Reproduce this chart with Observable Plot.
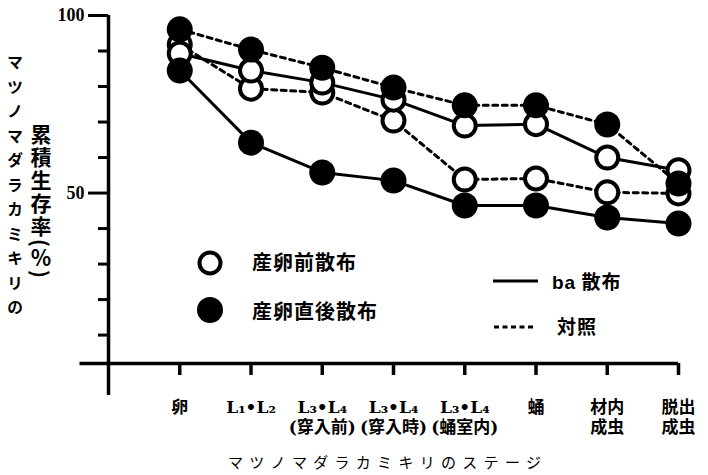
<!DOCTYPE html>
<html><head><meta charset="utf-8">
<script src="https://cdn.jsdelivr.net/npm/d3@7"></script>
<script src="https://cdn.jsdelivr.net/npm/@observablehq/plot@0.6"></script>
<style>
body{margin:0;background:#fff;}
#wrap{position:relative;width:708px;height:475px;overflow:hidden;}
.jp{font-family:"Noto Sans CJK JP";font-weight:bold;color:#000;position:absolute;line-height:1;}
.vt{writing-mode:vertical-rl;}
</style></head><body><div id="wrap"></div>
<script>
// stages (x categories)
const stages = ["卵", "L₁•L₂", "L₃•L₄\n(穿入前)", "L₃•L₄\n(穿入時)", "L₃•L₄\n(蛹室内)", "蛹", "材内\n成虫", "脱出\n成虫"];
// cumulative survival (%)
const openBa     = [89.3, 84.5, 81.1, 76.3, 69.0, 69.4, 60.0, 56.4]; // 産卵前散布 + ba散布
const openCtrl   = [91.8, 79.4, 78.3, 70.4, 53.8, 54.1, 50.2, 49.9]; // 産卵前散布 + 対照
const filledBa   = [84.5, 64.2, 55.8, 53.5, 46.5, 46.5, 43.1, 41.4]; // 産卵直後散布 + ba散布
const filledCtrl = [96.1, 90.4, 85.3, 79.7, 74.7, 74.7, 69.3, 52.7]; // 産卵直後散布 + 対照
const yTicks = [10, 20, 30, 40, 60, 70, 80, 90];
const yLabelTicks = [50, 100];

const idx = stages.map((_, i) => i);
const series = (vals) => idx.map(i => ({i, v: vals[i]}));

const lineOpt = {x: "i", y: "v", stroke: "black", strokeWidth: 3};
const dashOpt = {...lineOpt, strokeDasharray: "5,4.5"};

const chart = Plot.plot({
  width: 708, height: 475,
  marginLeft: 108, marginRight: 30, marginTop: 15, marginBottom: 112,
  x: {type: "linear", domain: [-1, idx.length - 1]},
  y: {domain: [2, 100]},
  style: {background: "white", color: "black"},
  marks: [
    Plot.ruleY([2], {x1: -1.4, x2: idx.length - 1, stroke: "black", strokeWidth: 3.5}),
    Plot.ruleX([-1], {y1: -7, y2: 100, stroke: "black", strokeWidth: 3.5}),
    Plot.axisY({ticks: yTicks, tickSize: 10, tickFormat: () => "", strokeWidth: 3, label: null}),
    Plot.axisY({ticks: yLabelTicks, tickSize: 20, tickPadding: 4, strokeWidth: 3, fontSize: 18, fontWeight: "bold", fontFamily: "Liberation Serif", label: null}),
    Plot.axisX({ticks: idx, tickSize: 12, tickPadding: 23, strokeWidth: 3.5, tickFormat: i => stages[i], fontSize: 17, fontWeight: "bold", fontFamily: "DejaVu Serif, Noto Sans CJK JP", lineHeight: 1.2, label: null}),
    Plot.line(series(openBa), lineOpt),
    Plot.line(series(filledBa), lineOpt),
    Plot.line(series(openCtrl), dashOpt),
    Plot.line(series(filledCtrl), dashOpt),
    Plot.dot(series(openCtrl), {x: "i", y: "v", r: 11, fill: "white", stroke: "black", strokeWidth: 4}),
    Plot.dot(series(openBa), {x: "i", y: "v", r: 11, fill: "white", stroke: "black", strokeWidth: 4}),
    Plot.dot(series(filledCtrl), {x: "i", y: "v", r: 13, fill: "black"}),
    Plot.dot(series(filledBa), {x: "i", y: "v", r: 13, fill: "black"})
  ]
});
const wrap = document.getElementById("wrap");
wrap.appendChild(chart);

function addDiv(html, css, cls) {
  const d = document.createElement("div");
  d.className = cls || "jp";
  d.innerHTML = html;
  Object.assign(d.style, css);
  wrap.appendChild(d);
}
// axis titles
addDiv("マツノマダラカミキリの", {left: "7px", top: "54px", fontSize: "16px", letterSpacing: "8.5px"}, "jp vt");
addDiv("累積生存率<span style='letter-spacing:0'>(</span>％<span>)</span>", {left: "30px", top: "124px", fontSize: "21px", letterSpacing: "2px"}, "jp vt");
addDiv("マツノマダラカミキリのステージ", {left: "228px", top: "454px", fontSize: "15px", letterSpacing: "6.3px", fontWeight: "normal"});
// legend
const svgNS = '<svg width="30" height="30" style="position:absolute;overflow:visible">';
addDiv(svgNS + '<circle cx="15" cy="15" r="10.5" fill="white" stroke="black" stroke-width="4"/></svg>', {left: "195px", top: "248px", width: "30px", height: "30px"});
addDiv(svgNS + '<circle cx="15" cy="15" r="13" fill="black"/></svg>', {left: "195px", top: "295px", width: "30px", height: "30px"});
addDiv("産卵前散布", {left: "252px", top: "252px", fontSize: "20px", letterSpacing: "1px"});
addDiv("産卵直後散布", {left: "252px", top: "301px", fontSize: "20px", letterSpacing: "1px"});
addDiv('<svg width="50" height="10" style="position:absolute"><line x1="0" y1="5" x2="45" y2="5" stroke="black" stroke-width="3"/></svg>', {left: "493px", top: "276px", width: "50px", height: "10px"});
addDiv('<svg width="50" height="10" style="position:absolute"><line x1="0" y1="5" x2="42" y2="5" stroke="black" stroke-width="3" stroke-dasharray="5,3.5"/></svg>', {left: "494px", top: "322px", width: "50px", height: "10px"});
addDiv("<span style='font-family:Liberation Sans'>ba</span> 散布", {left: "552px", top: "271px", fontSize: "19px", letterSpacing: "1px"});
addDiv("対照", {left: "557px", top: "316px", fontSize: "19px", letterSpacing: "1px"});
</script>
</body></html>
